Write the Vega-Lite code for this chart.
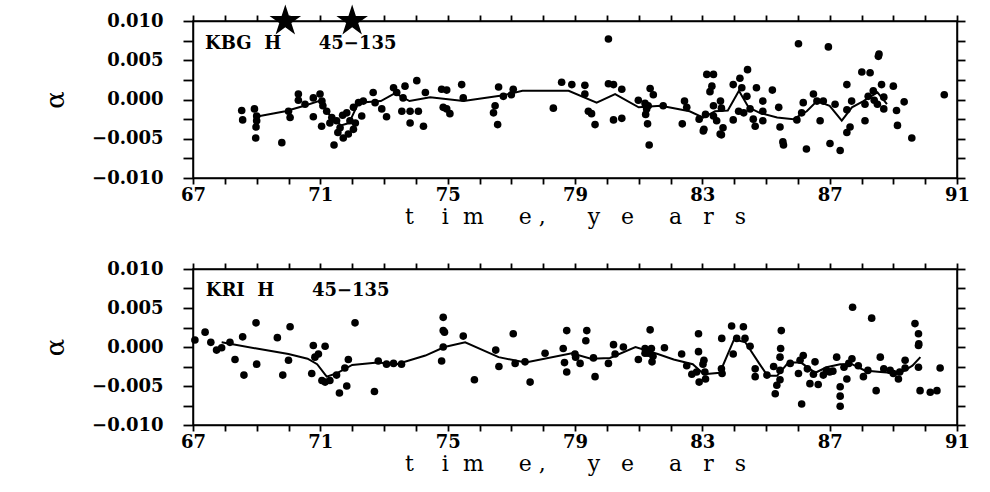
{
  "$schema": "https://vega.github.io/schema/vega-lite/v6.json",
  "background": "white",
  "padding": {"left": 41, "top": 3, "right": 5, "bottom": 5},
  "bounds": "flush",
  "spacing": 91,
  "config": {
    "view": {"stroke": "black", "strokeWidth": 1.5},
    "axis": {"grid": false, "domainColor": "black", "domainWidth": 1.5, "tickColor": "black", "tickWidth": 1.8, "labelColor": "black", "titleColor": "black", "labelFont": "DejaVu Serif", "labelFontWeight": "bold", "labelFontSize": 18, "titleFont": "DejaVu Serif", "titleFontWeight": "normal", "labelOverlap": false, "labelFlush": false}
  },
  "datasets": {
    "kbg_pts": [
      {"year": 68.53, "a": -0.0014}, {"year": 68.56, "a": -0.0026}, {"year": 68.93, "a": -0.0012}, {"year": 69.0, "a": -0.0021}, {"year": 69.0, "a": -0.0027}, {"year": 68.98, "a": -0.0035}, {"year": 68.97, "a": -0.0049}, {"year": 69.79, "a": -0.0055}, {"year": 70.0, "a": -0.0015}, {"year": 70.05, "a": -0.0023}, {"year": 70.31, "a": 0.0007}, {"year": 70.31, "a": -0.0001}, {"year": 70.52, "a": -0.0006}, {"year": 70.78, "a": 0.0002}, {"year": 70.99, "a": 0.0007}, {"year": 71.05, "a": -0.0002}, {"year": 71.08, "a": -0.0008}, {"year": 70.78, "a": -0.0022}, {"year": 71.04, "a": -0.0034}, {"year": 71.2, "a": -0.0015}, {"year": 71.36, "a": -0.0023}, {"year": 71.51, "a": -0.0027}, {"year": 71.62, "a": -0.0036}, {"year": 71.72, "a": -0.0049}, {"year": 71.43, "a": -0.0058}, {"year": 71.88, "a": -0.0044}, {"year": 72.04, "a": -0.0038}, {"year": 71.93, "a": -0.0027}, {"year": 71.83, "a": -0.0017}, {"year": 72.04, "a": -0.0010}, {"year": 72.2, "a": -0.0004}, {"year": 72.3, "a": -0.0021}, {"year": 72.35, "a": -0.0002}, {"year": 72.66, "a": 0.0009}, {"year": 72.72, "a": -0.0004}, {"year": 72.93, "a": -0.0012}, {"year": 73.08, "a": -0.0022}, {"year": 73.3, "a": 0.0015}, {"year": 73.4, "a": 0.0009}, {"year": 73.66, "a": 0.0017}, {"year": 73.6, "a": 0.0002}, {"year": 73.56, "a": -0.0015}, {"year": 73.82, "a": -0.0015}, {"year": 73.82, "a": -0.0030}, {"year": 74.03, "a": 0.0024}, {"year": 74.08, "a": -0.0015}, {"year": 74.24, "a": -0.0034}, {"year": 74.3, "a": 0.0009}, {"year": 74.81, "a": 0.0013}, {"year": 74.86, "a": -0.0010}, {"year": 71.3, "a": -0.0030}, {"year": 71.7, "a": -0.0020}, {"year": 72.1, "a": -0.0030}, {"year": 71.55, "a": -0.0042},
      {"year": 74.97, "a": 0.0012}, {"year": 74.97, "a": -0.0012}, {"year": 75.07, "a": -0.0018}, {"year": 75.44, "a": 0.0019}, {"year": 75.49, "a": 0.0002}, {"year": 76.6, "a": 0.0016}, {"year": 76.49, "a": -0.0008}, {"year": 76.44, "a": -0.0017}, {"year": 76.57, "a": -0.0032}, {"year": 76.75, "a": 0.0004}, {"year": 77.06, "a": 0.0013}, {"year": 77.0, "a": 0.0006}, {"year": 78.32, "a": -0.0011}, {"year": 78.58, "a": 0.0022}, {"year": 78.9, "a": 0.0019}, {"year": 79.31, "a": 0.0018}, {"year": 79.31, "a": 0.0007}, {"year": 79.42, "a": -0.0015}, {"year": 79.52, "a": -0.0018}, {"year": 79.63, "a": -0.0032}, {"year": 80.05, "a": 0.0077}, {"year": 80.05, "a": 0.0020}, {"year": 80.21, "a": 0.0019}, {"year": 80.47, "a": 0.0013}, {"year": 80.21, "a": -0.0026}, {"year": 80.47, "a": -0.0024}, {"year": 80.99, "a": -0.0001}, {"year": 81.2, "a": -0.0005}, {"year": 81.25, "a": -0.0012}, {"year": 81.22, "a": -0.0019}, {"year": 81.3, "a": -0.0008}, {"year": 81.36, "a": 0.0014}, {"year": 81.46, "a": 0.0006}, {"year": 81.28, "a": -0.0031}, {"year": 81.33, "a": -0.0058}, {"year": 81.77, "a": -0.0008}, {"year": 82.44, "a": -0.0002}, {"year": 82.51, "a": -0.0010}, {"year": 82.37, "a": -0.0031},
      {"year": 83.35, "a": 0.0032}, {"year": 83.3, "a": 0.0017}, {"year": 83.24, "a": 0.0010}, {"year": 83.03, "a": -0.0040}, {"year": 82.9, "a": -0.0025}, {"year": 83.1, "a": -0.0019}, {"year": 83.35, "a": -0.0008}, {"year": 83.57, "a": -0.0002}, {"year": 83.6, "a": -0.0011}, {"year": 83.35, "a": -0.0021}, {"year": 83.45, "a": -0.0027}, {"year": 83.65, "a": -0.0036}, {"year": 83.6, "a": -0.0045}, {"year": 83.97, "a": 0.0019}, {"year": 84.18, "a": 0.0027}, {"year": 84.42, "a": 0.0038}, {"year": 84.24, "a": 0.0015}, {"year": 84.4, "a": 0.0004}, {"year": 83.97, "a": -0.0026}, {"year": 84.14, "a": -0.0015}, {"year": 84.3, "a": -0.0017}, {"year": 84.5, "a": -0.0012}, {"year": 84.6, "a": -0.0025}, {"year": 84.66, "a": -0.0034}, {"year": 84.7, "a": 0.0015}, {"year": 84.9, "a": -0.0002}, {"year": 84.9, "a": -0.0015}, {"year": 84.9, "a": -0.0027}, {"year": 85.2, "a": 0.0012}, {"year": 85.4, "a": -0.0010}, {"year": 85.44, "a": -0.0035}, {"year": 85.53, "a": -0.0054}, {"year": 85.55, "a": -0.0058}, {"year": 86.02, "a": 0.0071}, {"year": 85.97, "a": -0.0026}, {"year": 86.17, "a": -0.0004}, {"year": 86.12, "a": -0.0017}, {"year": 86.27, "a": -0.0063}, {"year": 86.49, "a": 0.0007}, {"year": 86.6, "a": -0.0002}, {"year": 86.7, "a": -0.0027}, {"year": 86.8, "a": -0.0002}, {"year": 86.96, "a": 0.0067}, {"year": 87.01, "a": -0.0056}, {"year": 87.17, "a": -0.0006}, {"year": 87.33, "a": -0.0065}, {"year": 87.54, "a": 0.0019}, {"year": 87.54, "a": -0.0042}, {"year": 87.64, "a": -0.0035}, {"year": 87.69, "a": -0.0002}, {"year": 87.54, "a": -0.0013}, {"year": 88.01, "a": 0.0035}, {"year": 88.27, "a": 0.0034}, {"year": 88.11, "a": -0.0027}, {"year": 88.11, "a": -0.0006}, {"year": 88.21, "a": 0.0004}, {"year": 88.37, "a": 0.0011}, {"year": 88.53, "a": 0.0055}, {"year": 88.55, "a": 0.0058}, {"year": 88.63, "a": 0.0019}, {"year": 88.4, "a": -0.0001}, {"year": 88.5, "a": -0.0006}, {"year": 88.7, "a": 0.0003}, {"year": 88.7, "a": -0.0012}, {"year": 89.0, "a": 0.0017}, {"year": 89.1, "a": -0.0014}, {"year": 89.13, "a": -0.0033}, {"year": 89.34, "a": -0.0003}, {"year": 89.58, "a": -0.0049}, {"year": 90.6, "a": 0.0006}, {"year": 83.14, "a": 0.0032}, {"year": 83.05, "a": -0.0038}, {"year": 83.56, "a": -0.0044}
    ],
    "kbg_line": [
      {"year": 69.1, "a": -0.0021}, {"year": 69.9, "a": -0.0015}, {"year": 70.5, "a": -0.0008}, {"year": 70.95, "a": -0.0002}, {"year": 71.3, "a": -0.0020}, {"year": 71.65, "a": -0.0033}, {"year": 71.9, "a": -0.0030}, {"year": 72.2, "a": -0.0004}, {"year": 72.9, "a": -0.0002}, {"year": 73.35, "a": 0.0008}, {"year": 73.8, "a": -0.0002}, {"year": 74.45, "a": 0.0003}, {"year": 75.5, "a": -0.0002}, {"year": 76.7, "a": 0.0005}, {"year": 77.35, "a": 0.0011}, {"year": 78.8, "a": 0.0011}, {"year": 79.68, "a": -0.0004}, {"year": 80.26, "a": 0.0007}, {"year": 81.0, "a": -0.0010}, {"year": 81.7, "a": -0.0008}, {"year": 82.6, "a": -0.0015}, {"year": 83.03, "a": -0.0023}, {"year": 83.4, "a": -0.0015}, {"year": 83.8, "a": -0.0014}, {"year": 84.15, "a": 0.0011}, {"year": 84.45, "a": -0.0010}, {"year": 84.8, "a": -0.0017}, {"year": 85.35, "a": -0.0023}, {"year": 85.86, "a": -0.0025}, {"year": 86.28, "a": -0.0015}, {"year": 86.6, "a": -0.0002}, {"year": 87.0, "a": -0.0008}, {"year": 87.38, "a": -0.0027}, {"year": 87.7, "a": -0.0010}, {"year": 88.06, "a": -0.0002}, {"year": 88.5, "a": 0.0009}, {"year": 88.8, "a": -0.0006}
    ],
    "kbg_stars": [{"year": 69.9, "a": 0.01}, {"year": 72.0, "a": 0.01}],
    "kri_pts": [
      {"year": 67.06, "a": 0.0009}, {"year": 67.38, "a": 0.0019}, {"year": 67.56, "a": 0.0006}, {"year": 67.74, "a": -0.0004}, {"year": 67.9, "a": -0.0001}, {"year": 68.16, "a": 0.0006}, {"year": 68.32, "a": -0.0016}, {"year": 68.56, "a": 0.0013}, {"year": 68.6, "a": -0.0036}, {"year": 68.98, "a": 0.0031}, {"year": 69.0, "a": -0.0022}, {"year": 69.65, "a": 0.0012}, {"year": 69.82, "a": -0.0036}, {"year": 70.0, "a": -0.0017}, {"year": 70.05, "a": 0.0026}, {"year": 70.73, "a": -0.0034}, {"year": 70.78, "a": 0.0002}, {"year": 71.15, "a": 0.0001}, {"year": 70.83, "a": -0.0013}, {"year": 70.94, "a": -0.0009}, {"year": 71.05, "a": -0.0043}, {"year": 71.15, "a": -0.0045}, {"year": 71.3, "a": -0.0043}, {"year": 71.51, "a": -0.0036}, {"year": 71.77, "a": -0.0027}, {"year": 71.88, "a": -0.0016}, {"year": 71.83, "a": -0.0050}, {"year": 71.6, "a": -0.0059}, {"year": 72.09, "a": 0.0031}, {"year": 72.7, "a": -0.0057}, {"year": 72.82, "a": -0.0018}, {"year": 73.08, "a": -0.0022}, {"year": 73.3, "a": -0.0021}, {"year": 73.55, "a": -0.0022}, {"year": 74.86, "a": 0.0038}, {"year": 74.86, "a": 0.0021}, {"year": 74.9, "a": 0.0019}, {"year": 74.86, "a": 0.0000}, {"year": 74.81, "a": -0.0018},
      {"year": 75.49, "a": 0.0014}, {"year": 75.84, "a": -0.0042}, {"year": 76.51, "a": -0.0004}, {"year": 76.61, "a": -0.0025}, {"year": 77.06, "a": 0.0017}, {"year": 77.12, "a": -0.0021}, {"year": 77.43, "a": -0.0019}, {"year": 77.59, "a": -0.0045}, {"year": 78.06, "a": -0.0008}, {"year": 78.63, "a": -0.0002}, {"year": 78.67, "a": -0.0020}, {"year": 78.74, "a": -0.0032}, {"year": 78.74, "a": 0.0021}, {"year": 79.0, "a": -0.0009}, {"year": 79.02, "a": -0.0013}, {"year": 79.16, "a": -0.0021}, {"year": 79.37, "a": 0.0021}, {"year": 79.34, "a": 0.0008}, {"year": 79.58, "a": -0.0014}, {"year": 79.63, "a": -0.0038}, {"year": 80.05, "a": -0.0021}, {"year": 80.21, "a": 0.0003}, {"year": 80.26, "a": -0.0009}, {"year": 80.52, "a": 0.0000}, {"year": 80.99, "a": -0.0016}, {"year": 81.36, "a": 0.0022}, {"year": 81.2, "a": -0.0002}, {"year": 81.3, "a": -0.0008}, {"year": 81.4, "a": -0.0002}, {"year": 81.45, "a": -0.0012}, {"year": 81.42, "a": -0.0019}, {"year": 81.2, "a": -0.0008}, {"year": 81.81, "a": -0.0001}, {"year": 82.35, "a": -0.0009}, {"year": 82.51, "a": -0.0024}, {"year": 82.67, "a": -0.0035}, {"year": 82.82, "a": -0.0032}, {"year": 82.88, "a": 0.0017}, {"year": 82.88, "a": -0.0006}, {"year": 82.9, "a": -0.0045},
      {"year": 83.05, "a": -0.0017}, {"year": 83.08, "a": -0.0032}, {"year": 83.1, "a": -0.0041}, {"year": 83.02, "a": -0.0022}, {"year": 83.61, "a": 0.0011}, {"year": 83.6, "a": -0.0028}, {"year": 83.62, "a": -0.0034}, {"year": 83.92, "a": 0.0027}, {"year": 84.29, "a": 0.0026}, {"year": 84.08, "a": 0.0011}, {"year": 84.34, "a": 0.0011}, {"year": 83.97, "a": -0.0009}, {"year": 84.5, "a": 0.0001}, {"year": 84.66, "a": -0.0028}, {"year": 84.66, "a": -0.0038}, {"year": 85.03, "a": -0.0036}, {"year": 85.24, "a": -0.0025}, {"year": 85.34, "a": -0.0049}, {"year": 85.29, "a": -0.0060}, {"year": 85.44, "a": -0.0042}, {"year": 85.44, "a": -0.0030}, {"year": 85.44, "a": -0.0013}, {"year": 85.46, "a": -0.0002}, {"year": 85.48, "a": 0.0021}, {"year": 85.76, "a": -0.0021}, {"year": 86.17, "a": -0.0011}, {"year": 86.07, "a": -0.0017}, {"year": 86.12, "a": -0.0073}, {"year": 86.02, "a": -0.0034}, {"year": 86.54, "a": -0.0019}, {"year": 86.38, "a": -0.0047}, {"year": 86.64, "a": -0.0048}, {"year": 86.49, "a": -0.0035}, {"year": 86.9, "a": -0.0030}, {"year": 87.0, "a": -0.0032}, {"year": 87.1, "a": -0.0031}, {"year": 87.22, "a": -0.0013}, {"year": 87.33, "a": -0.0051}, {"year": 87.33, "a": -0.0063}, {"year": 87.33, "a": -0.0076}, {"year": 87.54, "a": -0.0041}, {"year": 87.45, "a": -0.0026}, {"year": 87.6, "a": -0.0021}, {"year": 87.7, "a": -0.0015}, {"year": 87.72, "a": 0.0051}, {"year": 88.06, "a": -0.0038}, {"year": 88.32, "a": 0.0037}, {"year": 88.46, "a": -0.0056}, {"year": 88.59, "a": -0.0013}, {"year": 89.0, "a": -0.0034}, {"year": 89.16, "a": -0.0041}, {"year": 89.37, "a": -0.0017}, {"year": 89.37, "a": -0.0027}, {"year": 89.68, "a": 0.0030}, {"year": 89.79, "a": 0.0017}, {"year": 89.8, "a": 0.0004}, {"year": 89.79, "a": 0.0002}, {"year": 89.79, "a": -0.0026}, {"year": 89.84, "a": -0.0056}, {"year": 90.16, "a": -0.0058}, {"year": 90.37, "a": -0.0056}, {"year": 90.47, "a": -0.0027}, {"year": 87.9, "a": -0.0024}, {"year": 88.2, "a": -0.0030}, {"year": 88.7, "a": -0.0028}, {"year": 88.9, "a": -0.0030}, {"year": 89.2, "a": -0.0032}, {"year": 86.3, "a": -0.0028}, {"year": 86.8, "a": -0.0036}
    ],
    "kri_line": [
      {"year": 67.9, "a": 0.0006}, {"year": 69.0, "a": -0.0002}, {"year": 70.0, "a": -0.0009}, {"year": 70.6, "a": -0.0015}, {"year": 70.9, "a": -0.0022}, {"year": 71.2, "a": -0.0038}, {"year": 71.5, "a": -0.0034}, {"year": 72.0, "a": -0.0023}, {"year": 72.8, "a": -0.0020}, {"year": 73.4, "a": -0.0022}, {"year": 74.3, "a": -0.0011}, {"year": 74.9, "a": 0.0}, {"year": 75.55, "a": 0.0006}, {"year": 76.6, "a": -0.0013}, {"year": 77.45, "a": -0.0020}, {"year": 78.9, "a": -0.0008}, {"year": 79.5, "a": -0.0015}, {"year": 80.1, "a": -0.0014}, {"year": 80.9, "a": 0.0}, {"year": 81.6, "a": -0.0009}, {"year": 82.1, "a": -0.0016}, {"year": 82.7, "a": -0.0022}, {"year": 83.05, "a": -0.0035}, {"year": 83.55, "a": -0.0033}, {"year": 84.0, "a": 0.0010}, {"year": 84.35, "a": 0.0006}, {"year": 84.8, "a": -0.0022}, {"year": 85.05, "a": -0.0037}, {"year": 85.35, "a": -0.0037}, {"year": 85.7, "a": -0.0020}, {"year": 86.1, "a": -0.0020}, {"year": 86.55, "a": -0.0033}, {"year": 86.9, "a": -0.0026}, {"year": 87.33, "a": -0.0022}, {"year": 87.7, "a": -0.0022}, {"year": 88.1, "a": -0.0030}, {"year": 88.6, "a": -0.0032}, {"year": 89.2, "a": -0.0034}, {"year": 89.6, "a": -0.0024}, {"year": 89.85, "a": -0.0013}
    ]
  },
  "vconcat": [
    {
      "width": 764,
      "height": 157,
      "layer": [
        {
          "data": {"name": "kbg_pts"},
          "mark": {"type": "circle", "size": 58, "color": "black", "opacity": 1},
          "encoding": {
            "x": {"field": "year", "type": "quantitative", "scale": {"domain": [67, 91], "nice": false, "zero": false},
              "axis": {"orient": "bottom", "values": [67,68,69,70,71,72,73,74,75,76,77,78,79,80,81,82,83,84,85,86,87,88,89,90,91], "labelExpr": "(round(datum.value) - 67) % 4 == 0 ? '' + round(datum.value) : ''", "tickSize": 6, "labelPadding": 2, "title": "\u00a0\u00a0t\u00a0\u00a0\u00a0\u00a0i\u00a0\u00a0m\u00a0\u00a0\u00a0\u00a0\u00a0e\u00a0,\u00a0\u00a0\u00a0\u00a0\u00a0\u00a0y\u00a0\u00a0\u00a0e\u00a0\u00a0\u00a0\u00a0\u00a0a\u00a0\u00a0\u00a0r\u00a0\u00a0\u00a0s", "titleFontSize": 22, "titlePadding": 2}},
            "y": {"field": "a", "type": "quantitative", "scale": {"domain": [-0.01, 0.01], "nice": false, "zero": false},
              "axis": {"orient": "left", "values": [-0.01,-0.0075,-0.005,-0.0025,0,0.0025,0.005,0.0075,0.01], "labelExpr": "abs(round(datum.value*10000)) % 50 == 0 ? format(datum.value, '.3f') : ''", "tickSize": 10, "labelPadding": 20, "title": "α", "titleFontSize": 26, "titlePadding": 23}}
          }
        },
        {
          "data": {"name": "kbg_line"},
          "mark": {"type": "line", "color": "black", "strokeWidth": 2},
          "encoding": {
            "x": {"field": "year", "type": "quantitative", "axis": {"orient": "top", "values": [67,68,69,70,71,72,73,74,75,76,77,78,79,80,81,82,83,84,85,86,87,88,89,90,91], "labels": false, "tickSize": 6, "title": null}},
            "y": {"field": "a", "type": "quantitative", "axis": {"orient": "right", "values": [-0.01,-0.0075,-0.005,-0.0025,0,0.0025,0.005,0.0075,0.01], "labels": false, "tickSize": 8, "title": null}}
          }
        },
        {
          "data": {"name": "kbg_stars"},
          "mark": {"type": "point", "shape": "M0,-1L0.2245,-0.309L0.951,-0.309L0.363,0.118L0.588,0.809L0,0.382L-0.588,0.809L-0.363,0.118L-0.951,-0.309L-0.2245,-0.309Z", "filled": true, "color": "black", "size": 1100, "opacity": 1},
          "encoding": {
            "x": {"field": "year", "type": "quantitative", "axis": null},
            "y": {"field": "a", "type": "quantitative", "axis": null}
          }
        },
        {
          "data": {"values": [{"panel": "KBG\u00a0\u00a0H\u00a0\u00a0\u00a0\u00a0\u00a0\u00a045\u2212135"}]},
          "mark": {"type": "text", "align": "left", "baseline": "alphabetic", "font": "DejaVu Serif", "fontWeight": "bold", "fontSize": 18, "color": "black"},
          "encoding": {
            "x": {"datum": 67.38, "type": "quantitative", "axis": null},
            "y": {"datum": 0.0064, "type": "quantitative", "axis": null},
            "text": {"field": "panel"}
          }
        }
      ],
      "resolve": {"axis": {"x": "independent", "y": "independent"}}
    },
    {
      "width": 764,
      "height": 156,
      "layer": [
        {
          "data": {"name": "kri_pts"},
          "mark": {"type": "circle", "size": 58, "color": "black", "opacity": 1},
          "encoding": {
            "x": {"field": "year", "type": "quantitative", "scale": {"domain": [67, 91], "nice": false, "zero": false},
              "axis": {"orient": "bottom", "values": [67,68,69,70,71,72,73,74,75,76,77,78,79,80,81,82,83,84,85,86,87,88,89,90,91], "labelExpr": "(round(datum.value) - 67) % 4 == 0 ? '' + round(datum.value) : ''", "tickSize": 6, "labelPadding": 2, "title": "\u00a0\u00a0t\u00a0\u00a0\u00a0\u00a0i\u00a0\u00a0m\u00a0\u00a0\u00a0\u00a0\u00a0e\u00a0,\u00a0\u00a0\u00a0\u00a0\u00a0\u00a0y\u00a0\u00a0\u00a0e\u00a0\u00a0\u00a0\u00a0\u00a0a\u00a0\u00a0\u00a0r\u00a0\u00a0\u00a0s", "titleFontSize": 22, "titlePadding": 2}},
            "y": {"field": "a", "type": "quantitative", "scale": {"domain": [-0.01, 0.01], "nice": false, "zero": false},
              "axis": {"orient": "left", "values": [-0.01,-0.0075,-0.005,-0.0025,0,0.0025,0.005,0.0075,0.01], "labelExpr": "abs(round(datum.value*10000)) % 50 == 0 ? format(datum.value, '.3f') : ''", "tickSize": 10, "labelPadding": 20, "title": "α", "titleFontSize": 26, "titlePadding": 23}}
          }
        },
        {
          "data": {"name": "kri_line"},
          "mark": {"type": "line", "color": "black", "strokeWidth": 2},
          "encoding": {
            "x": {"field": "year", "type": "quantitative", "axis": {"orient": "top", "values": [67,68,69,70,71,72,73,74,75,76,77,78,79,80,81,82,83,84,85,86,87,88,89,90,91], "labels": false, "tickSize": 6, "title": null}},
            "y": {"field": "a", "type": "quantitative", "axis": {"orient": "right", "values": [-0.01,-0.0075,-0.005,-0.0025,0,0.0025,0.005,0.0075,0.01], "labels": false, "tickSize": 8, "title": null}}
          }
        },
        {
          "data": {"values": [{"panel": "KRI\u00a0\u00a0H\u00a0\u00a0\u00a0\u00a0\u00a0\u00a045\u2212135"}]},
          "mark": {"type": "text", "align": "left", "baseline": "alphabetic", "font": "DejaVu Serif", "fontWeight": "bold", "fontSize": 18, "color": "black"},
          "encoding": {
            "x": {"datum": 67.4, "type": "quantitative", "axis": null},
            "y": {"datum": 0.0066, "type": "quantitative", "axis": null},
            "text": {"field": "panel"}
          }
        }
      ],
      "resolve": {"axis": {"x": "independent", "y": "independent"}}
    }
  ]
}
